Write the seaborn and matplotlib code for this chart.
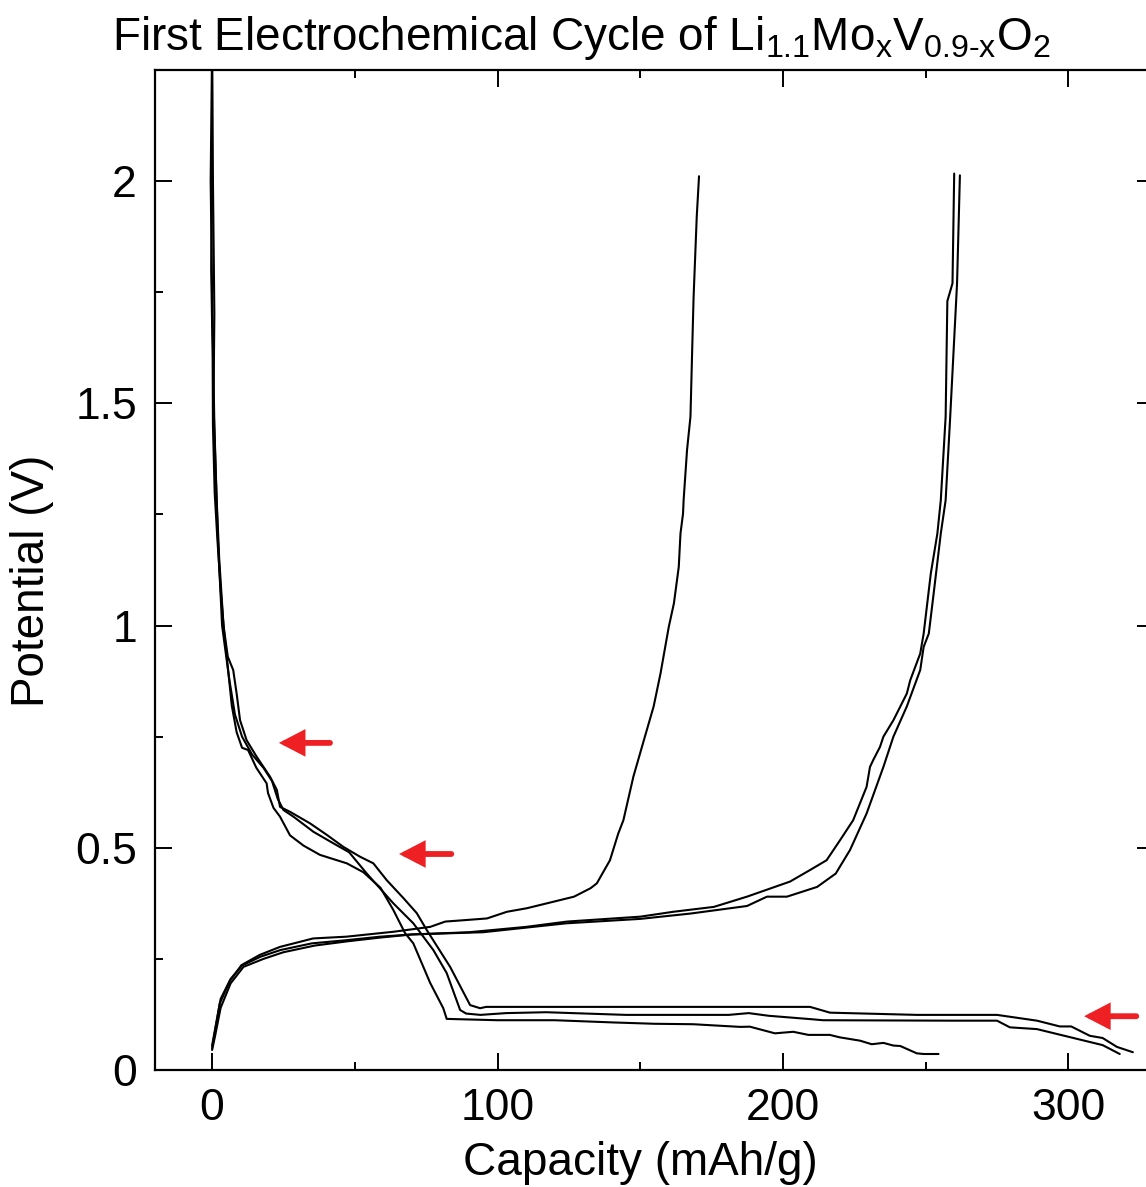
import matplotlib
matplotlib.use("Agg")
import matplotlib.pyplot as plt
from matplotlib.ticker import MultipleLocator, FuncFormatter
import numpy as np
import pandas as pd
import seaborn as sns

# ---- discharge curves (capacity in mAh/g, potential in V) ----
dis_a_cap = [0.0, 0.0, -0.3, 0.2, 0.3, 0.9, 1.8, 3.0, 4.3, 5.3, 6.9, 8.6, 10.5, 12.6,
             15.5, 19.1, 19.6, 21.5, 23.8, 27.3, 32.0, 37.8, 47.2, 53.0, 59.0, 63.5,
             67.6, 70.5, 76.4, 81.0, 82.2, 100.0, 120.0, 140.5, 155.0, 168.5, 185.0,
             188.4, 197.2, 203.6, 208.9, 216.4, 219.9, 227.0, 231.1, 235.2, 238.7,
             241.1, 246.9, 249.3, 254.5]
dis_a_v = [2.30, 2.00, 1.80, 1.60, 1.45, 1.30, 1.20, 1.08, 0.98, 0.92, 0.82, 0.76, 0.725,
           0.72, 0.68, 0.645, 0.623, 0.59, 0.57, 0.528, 0.505, 0.484, 0.465, 0.445, 0.41,
           0.36, 0.308, 0.285, 0.196, 0.139, 0.115, 0.112, 0.112, 0.107, 0.104, 0.103,
           0.097, 0.0975, 0.0825, 0.086, 0.079, 0.079, 0.0735, 0.066, 0.058, 0.061,
           0.055, 0.054, 0.0375, 0.036, 0.036]

dis_b_cap = [0.0, 0.3, 0.8, 0.5, 1.5, 2.5, 4.0, 5.5, 7.4, 8.6, 9.8, 12.1, 15.6, 20.3,
             22.7, 23.8, 27.3, 34.3, 40.2, 46.0, 51.8, 56.5, 61.2, 67.0, 71.7, 75.2,
             83.4, 90.4, 93.9, 96.0, 209.5, 216.5, 247.0, 275.0, 289.0, 297.0, 301.0,
             307.5, 312.0, 317.0, 322.6]
dis_b_v = [2.30, 2.00, 1.70, 1.50, 1.30, 1.15, 1.00, 0.93, 0.90, 0.847, 0.787, 0.742,
           0.705, 0.66, 0.63, 0.592, 0.581, 0.555, 0.529, 0.502, 0.48, 0.465, 0.427,
           0.387, 0.353, 0.315, 0.232, 0.146, 0.139, 0.142, 0.142, 0.129, 0.124, 0.124,
           0.111, 0.098, 0.098, 0.077, 0.072, 0.052, 0.040]

dis_c_cap = [0.0, -0.5, 0.0, 0.8, 2.0, 3.5, 6.0, 8.0, 10.5, 14.0, 18.0, 21.0, 23.0, 25.0,
             28.5, 35.5, 42.5, 48.0, 54.2, 63.5, 70.5, 77.5, 82.2, 86.9, 89.0, 94.0,
             103.0, 117.0, 145.0, 181.0, 188.0, 195.0, 210.5, 214.0, 258.5, 275.0,
             279.5, 289.0, 300.5, 312.0, 318.0]
dis_c_v = [2.30, 2.00, 1.75, 1.45, 1.20, 1.00, 0.88, 0.80, 0.75, 0.71, 0.68, 0.65, 0.61,
           0.585, 0.57, 0.536, 0.51, 0.49, 0.442, 0.375, 0.33, 0.27, 0.218, 0.135,
           0.127, 0.124, 0.128, 0.13, 0.124, 0.124, 0.128, 0.122, 0.114, 0.112, 0.111,
           0.111, 0.096, 0.092, 0.074, 0.056, 0.036]

# ---- charge curves ----
chg_d_cap = [0.0, 0.9, 2.7, 6.2, 10.3, 16.7, 23.8, 35.4, 47.1, 63.5, 76.4, 81.7, 88.1,
             96.3, 103.3, 110.3, 117.3, 126.8, 132.6, 134.8, 139.4, 142.3, 144.1, 147.6,
             150.6, 154.7, 157.1, 160.0, 161.8, 163.5, 164.1, 165.0, 165.2, 166.4,
             167.6, 168.2, 168.7, 169.3, 169.8, 170.6]
chg_d_v = [0.049, 0.083, 0.15, 0.20, 0.236, 0.259, 0.277, 0.296, 0.30, 0.311, 0.322,
           0.334, 0.337, 0.341, 0.356, 0.364, 0.375, 0.39, 0.409, 0.42, 0.472, 0.532,
           0.562, 0.66, 0.727, 0.818, 0.892, 0.997, 1.05, 1.132, 1.207, 1.252, 1.282,
           1.395, 1.47, 1.62, 1.74, 1.838, 1.92, 2.011]

chg_e_cap = [0.0, 1.0, 3.0, 6.5, 10.5, 17.0, 24.0, 35.0, 47.0, 58.9, 70.0, 90.0, 110.0,
             124.4, 150.0, 161.6, 175.8, 187.4, 202.5, 209.5, 215.3, 220.0, 224.6, 229.3,
             230.5, 231.6, 234.0, 235.2, 238.7, 243.4, 244.6, 248.1, 249.3, 251.8, 254.1,
             255.3, 257.0, 257.6, 259.4, 260.0]
chg_e_v = [0.055, 0.09, 0.16, 0.205, 0.235, 0.255, 0.27, 0.285, 0.292, 0.30, 0.305, 0.31,
           0.322, 0.334, 0.345, 0.356, 0.367, 0.39, 0.424, 0.45, 0.472, 0.517, 0.562,
           0.637, 0.682, 0.697, 0.727, 0.75, 0.787, 0.847, 0.877, 0.937, 0.982, 1.117,
           1.207, 1.282, 1.47, 1.73, 1.77, 2.017]

chg_f_cap = [0.0, 1.0, 3.0, 6.5, 11.0, 18.0, 25.0, 36.0, 48.0, 59.0, 70.0, 95.0, 124.0,
             150.0, 167.6, 187.4, 194.4, 201.4, 212.0, 218.5, 223.5, 229.3, 235.2, 238.7,
             243.4, 248.1, 249.3, 251.1, 252.8, 255.3, 257.0, 258.6, 261.0, 262.0]
chg_f_v = [0.045, 0.075, 0.14, 0.195, 0.232, 0.25, 0.265, 0.28, 0.29, 0.298, 0.305, 0.31,
           0.33, 0.34, 0.352, 0.369, 0.39, 0.39, 0.412, 0.442, 0.495, 0.577, 0.682, 0.75,
           0.818, 0.90, 0.952, 0.982, 1.072, 1.207, 1.282, 1.47, 1.77, 2.013]

# arrow markers: (tail capacity, tip capacity, potential)
arrow_tail = [41.3, 83.8, 323.8]
arrow_tip = [23.4, 65.5, 305.5]
arrow_v = [0.736, 0.486, 0.121]

curves = {
    "dis_a": (dis_a_cap, dis_a_v), "dis_b": (dis_b_cap, dis_b_v),
    "dis_c": (dis_c_cap, dis_c_v), "chg_d": (chg_d_cap, chg_d_v),
    "chg_e": (chg_e_cap, chg_e_v), "chg_f": (chg_f_cap, chg_f_v),
}
frames = []
for name, (cap, v) in curves.items():
    frames.append(pd.DataFrame({"curve": name, "order": np.arange(len(cap)),
                                "capacity": cap, "potential": v}))
df = pd.concat(frames, ignore_index=True)

sns.set_theme(style="ticks")
plt.rcParams["font.family"] = ["Liberation Sans", "DejaVu Sans"]
plt.rcParams["mathtext.fontset"] = "custom"
plt.rcParams["mathtext.rm"] = "Liberation Sans"
plt.rcParams["mathtext.it"] = "Liberation Sans"
for key in ("text.color", "axes.labelcolor", "xtick.color", "ytick.color",
            "axes.edgecolor"):
    plt.rcParams[key] = "black"

fig = plt.figure(figsize=(11.46, 11.87), dpi=100)
ax = fig.add_axes([155 / 1146, 1 - 1070 / 1187, 999 / 1146, 1000 / 1187])

sns.lineplot(data=df, x="capacity", y="potential", units="curve", estimator=None,
             sort=False, color="black", lw=1.5, ax=ax, legend=False)

red = "#ee2024"
for t0, t1, v in zip(arrow_tail, arrow_tip, arrow_v):
    ax.annotate("", xy=(t1, v), xytext=(t0, v),
                arrowprops=dict(arrowstyle="-|>,head_length=1.25,head_width=0.65",
                                color=red, lw=4.2, mutation_scale=10,
                                shrinkA=0, shrinkB=0, joinstyle="miter"))

ax.set_xlim(-20, 330)
ax.set_ylim(0, 2.25)
ax.xaxis.set_major_locator(MultipleLocator(100))
ax.xaxis.set_minor_locator(MultipleLocator(50))
ax.yaxis.set_major_locator(MultipleLocator(0.5))
ax.yaxis.set_minor_locator(MultipleLocator(0.25))
ax.yaxis.set_major_formatter(FuncFormatter(lambda v, p: f"{v:g}"))

ax.tick_params(which="both", direction="in", top=True, right=True, color="black",
               width=1.4)
ax.tick_params(which="major", length=12, labelsize=32, pad=13)
ax.tick_params(which="minor", length=6)
for s in ax.spines.values():
    s.set_linewidth(1.6)
    s.set_color("black")

ax.set_xlabel("Capacity (mAh/g)", fontsize=33)
ax.set_ylabel("Potential (V)", fontsize=33)
ax.xaxis.set_label_coords(0.486, -0.071)
ax.yaxis.set_label_coords(-0.101, 0.4895)
ax.xaxis.label.set_va("top")

fig.text(581 / 1146, 1 - 50 / 1187,
         r"First Electrochemical Cycle of Li$\mathregular{_{1.1}}$Mo$\mathregular{_x}$"
         r"V$\mathregular{_{0.9\text{-}x}}$O$\mathregular{_2}$",
         ha="center", va="baseline", fontsize=33)

fig.savefig("out.png", dpi=100)
